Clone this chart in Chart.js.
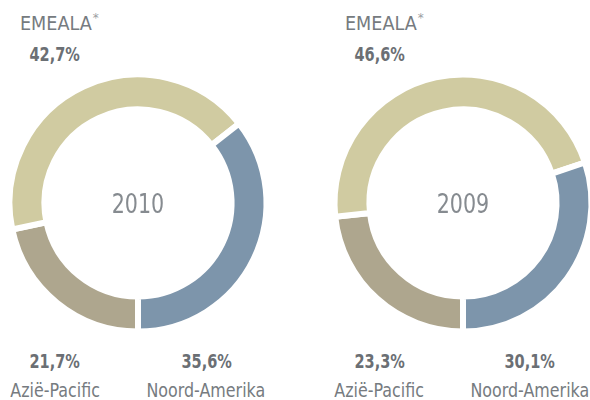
<!DOCTYPE html>
<html>
<head>
<meta charset="utf-8">
<script src="https://cdn.jsdelivr.net/npm/chart.js@4/dist/chart.umd.min.js"></script>
<style>
  html, body { margin: 0; padding: 0; background: #fff; }
  #wrap { position: relative; width: 590px; height: 400px; overflow: hidden;
          font-family: "DejaVu Sans Condensed", "Liberation Sans Narrow", "Liberation Sans", sans-serif; }
  .cv { position: absolute; width: 270px; height: 270px; }
  .lbl { position: absolute; white-space: nowrap; line-height: 24px; height: 24px; color: #767b80; font-size: 19px; }
  .pct { position: absolute; white-space: nowrap; line-height: 24px; height: 24px; color: #6b6f74; font-size: 19px; font-weight: bold; }
  .yr { position: absolute; white-space: nowrap; line-height: 34px; height: 34px; color: #868b90; font-size: 27px; }
  sup { font-size: 13px; vertical-align: 8px; line-height: 0; color: #9a9ea2; margin-left: 1px; }
</style>
</head>
<body>
<div id="wrap">
  <canvas id="c2010" class="cv" width="270" height="270" style="left:3px;top:68px;"></canvas>
  <canvas id="c2009" class="cv" width="270" height="270" style="left:328px;top:68px;"></canvas>
</div>
<script>
// Data
const years = ["2010", "2009"];
const regions = ["Azië-Pacific", "EMEALA", "Noord-Amerika"];
const values2010 = [21.7, 42.7, 35.6];
const values2009 = [23.3, 46.6, 30.1];
const colors = ["#aea68e", "#d0cba1", "#7d95ab"];

const fmt = v => v.toFixed(1).replace(".", ",") + "%";

function makeDonut(id, values) {
  return new Chart(document.getElementById(id), {
    type: "doughnut",
    data: {
      labels: regions,
      datasets: [{
        data: values,
        backgroundColor: colors,
        borderColor: "#ffffff",
        borderWidth: 6,
        borderJoinStyle: "miter",
        borderAlign: "center",
        hoverOffset: 0
      }]
    },
    options: {
      responsive: false,
      animation: false,
      rotation: 180,
      radius: 128.5,
      cutout: "72.8%",
      layout: { padding: 0 },
      plugins: { legend: { display: false }, tooltip: { enabled: false } },
      events: []
    }
  });
}
makeDonut("c2010", values2010);
makeDonut("c2009", values2009);

// Text labels
const wrap = document.getElementById("wrap");
function addText(cls, html, x, y, align, sx) {
  const d = document.createElement("div");
  d.className = cls;
  d.innerHTML = html;
  wrap.appendChild(d);
  const h = d.offsetHeight;
  const w = d.offsetWidth;
  let left = x;
  if (align === "center") {
    left = x - w / 2;
    d.style.transformOrigin = "50% 50%";
  } else {
    d.style.transformOrigin = "0 50%";
  }
  d.style.transform = "scaleX(" + sx + ")";
  d.style.left = left + "px";
  d.style.top = (y - h / 2) + "px";
  return d;
}
const panels = [
  { vals: values2010, year: years[0], cx: 138, emeX: 20, emePctX: 54, aziX: 54.5, noordX: 206 },
  { vals: values2009, year: years[1], cx: 463, emeX: 345, emePctX: 379, aziX: 379, noordX: 529.5 }
];
panels.forEach(p => {
  addText("lbl", regions[1] + "<sup>*</sup>", p.emeX, 23, "left", 1.03);
  addText("pct", fmt(p.vals[1]), p.emePctX, 54, "center", 0.85);
  addText("pct", fmt(p.vals[0]), p.aziX, 361, "center", 0.85);
  addText("lbl", regions[0], p.aziX, 390, "center", 0.93);
  addText("pct", fmt(p.vals[2]), p.noordX, 361, "center", 0.85);
  addText("lbl", regions[2], p.noordX, 390, "center", 0.93);
  addText("yr", p.year, p.cx, 204, "center", 0.85);
});
</script>
</body>
</html>
